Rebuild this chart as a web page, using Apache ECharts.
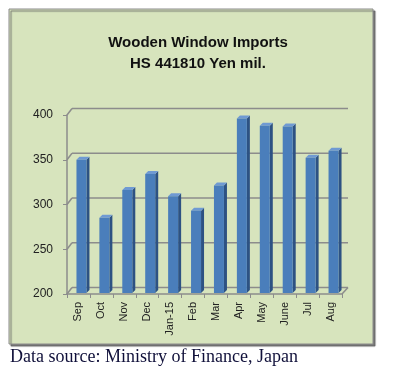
<!DOCTYPE html>
<html><head><meta charset="utf-8">
<script src="https://cdn.jsdelivr.net/npm/echarts@6/dist/echarts.min.js"></script>
<style>html,body{margin:0;padding:0;background:#fff}#c{width:407px;height:377px}</style>
</head><body><div id="c"></div>
<script>
const categories = ['Sep','Oct','Nov','Dec','Jan-15','Feb','Mar','Apr','May','June','Jul','Aug'];
const imports = [349, 284, 315, 333, 308, 292, 320, 395, 387, 386, 351, 359];
const yTicks = [200, 250, 300, 350, 400];

const chart = echarts.init(document.getElementById('c'), null, {renderer:'canvas'});
const DX = 5, DY = -6.5;
const gridColor = '#8c8c8c';

function barItem(params, api) {
  const p = api.coord([api.value(0), api.value(1)]);
  const b = api.coord([api.value(0), 200]);
  const cx = p[0] + 3, top = p[1] - 1, bot = b[1] - 1;
  const hw = 5, d = 3;
  return {type:'group', children:[
    {type:'polygon', shape:{points:[[cx+hw,top],[cx+hw+d,top-d],[cx+hw+d,bot-d],[cx+hw,bot]]}, style:{fill:'#2d5283'}},
    {type:'polygon', shape:{points:[[cx-hw,top],[cx-hw+d,top-d],[cx+hw+d,top-d],[cx+hw,top]]}, style:{fill:'#6f9ad3'}},
    {type:'rect', shape:{x:cx-hw, y:top, width:hw*2, height:bot-top}, style:{fill:'#4a7ebb'}}
  ]};
}

function frameItem(params, api) {
  const cs = params.coordSys;
  const x0 = cs.x, x1 = cs.x + cs.width;
  const children = [];
  yTicks.forEach(v => {
    const y = api.coord([0, v])[1];
    children.push({type:'line', shape:{x1:x0, y1:y, x2:x0+DX, y2:y+DY}, style:{stroke:gridColor, lineWidth:1.5}});
    children.push({type:'line', shape:{x1:x0+DX, y1:y+DY, x2:x1+DX+1, y2:y+DY}, style:{stroke:gridColor, lineWidth:1.5}});
  });
  const yb = api.coord([0, 200])[1];
  children.push({type:'line', shape:{x1:x1, y1:yb, x2:x1+DX+1, y2:yb+DY}, style:{stroke:gridColor, lineWidth:1.5}});
  return {type:'group', children};
}

chart.setOption({
  animation:false,
  backgroundColor:'#ffffff',
  graphic:[
    {type:'rect', z:-10, shape:{x:9, y:9, width:364, height:335},
     style:{fill:'#d7e4bd', stroke:'#8a8a8a', lineWidth:1, shadowColor:'rgba(90,90,90,0.8)', shadowOffsetX:2, shadowOffsetY:2, shadowBlur:1}}
  ],
  title:[
    {text:'Wooden Window Imports\nHS 441810 Yen mil.', left:193, top:27, textAlign:'center',
     textStyle:{fontFamily:'Liberation Sans, Arial, sans-serif', fontSize:15, fontWeight:'bold', color:'#111', lineHeight:21}},
    {text:'Data source: Ministry of Finance, Japan', left:10, top:348, padding:0,
     textStyle:{fontFamily:'Liberation Serif, Times New Roman, serif', fontSize:18, fontWeight:'normal', color:'#10103a'}}
  ],
  grid:{left:67, right:65, top:115, bottom:83},
  xAxis:{type:'category', data:categories, boundaryGap:true,
    axisLine:{lineStyle:{color:gridColor, width:1.5}},
    axisTick:{show:true, length:4, lineStyle:{color:gridColor}},
    axisLabel:{rotate:90, margin:8, fontSize:11, color:'#222', fontFamily:'Liberation Sans, Arial, sans-serif'}},
  yAxis:{type:'value', min:200, max:400, interval:50,
    axisLine:{show:true, lineStyle:{color:gridColor, width:1.5}},
    axisTick:{show:true, length:4, lineStyle:{color:gridColor}},
    splitLine:{show:false},
    axisLabel:{margin:14, fontSize:12, color:'#222', fontFamily:'Liberation Sans, Arial, sans-serif'}},
  series:[
    {type:'custom', name:'frame', renderItem:frameItem, data:[[0,200]], clip:false, silent:true, z:1},
    {type:'custom', name:'Imports', renderItem:barItem, data:imports.map((v,i)=>[i,v]), clip:false, z:3}
  ]
});
</script></body></html>
